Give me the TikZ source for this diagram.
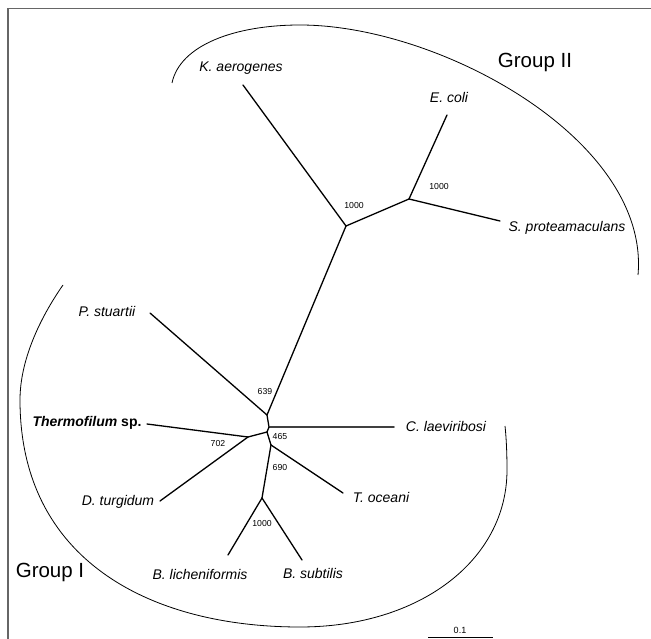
\documentclass[tikz,border=0pt]{standalone}
\usepackage{fontspec}
\setmainfont{Liberation Sans}
\begin{document}
\begin{tikzpicture}[x=1pt,y=-1pt,
  branch/.style={line width=1.3pt,black,line cap=round},
  species/.style={font=\fontsize{14}{16}\selectfont\itshape,inner sep=1pt},
  boot/.style={font=\fontsize{8.7}{10}\selectfont,inner sep=0.5pt},
  grouplbl/.style={font=\fontsize{20.5}{24}\selectfont,inner sep=0pt},
  grouparc/.style={line width=0.8pt,black},
  frameline/.style={line width=1.6pt,black!60}]
\useasboundingbox (0,0) rectangle (651,639);
% frame lines
\coordinate (fTL) at (8,8.5);
\coordinate (fTR) at (651,8.5);
\coordinate (fBL) at (8,639);
\draw[frameline] (fBL) -- (fTL) -- (fTR);
% internal nodes
\coordinate (A) at (346,226);
\coordinate (B) at (409,199);
\coordinate (C) at (267,415);
\coordinate (J) at (269,427);
\coordinate (J2) at (267,432);
\coordinate (N702) at (248,437);
\coordinate (N465) at (271,445);
\coordinate (N1000) at (262,498);
% tips
\coordinate (tK) at (243,85);
\coordinate (tE) at (447,115);
\coordinate (tS) at (500,221);
\coordinate (tP) at (150,313);
\coordinate (tTh) at (147,424);
\coordinate (tD) at (160,501);
\coordinate (tCl) at (394,427);
\coordinate (tTo) at (343,493);
\coordinate (tBl) at (228,555);
\coordinate (tBs) at (302,560);
% branches
\draw[branch] (tK) -- (A);
\draw[branch] (A) -- (B);
\draw[branch] (B) -- (tE);
\draw[branch] (B) -- (tS);
\draw[branch] (A) -- (C);
\draw[branch] (tP) -- (C);
\draw[branch] (C) -- (J);
\draw[branch,black!75,line width=1.6pt] (J) -- (tCl);
\draw[branch] (J) -- (J2);
\draw[branch] (J2) -- (N702);
\draw[branch] (tTh) -- (N702);
\draw[branch] (N702) -- (tD);
\draw[branch] (J2) -- (N465);
\draw[branch] (N465) -- (tTo);
\draw[branch] (N465) -- (N1000);
\draw[branch] (N1000) -- (tBl);
\draw[branch] (N1000) -- (tBs);
% species labels
\node[species] (lK) at (241,68) {K. aerogenes};
\node[species] (lE) at (449,97) {E. coli};
\node[species] (lS) at (567,228) {S. proteamaculans};
\node[species] (lP) at (107,311) {P. stuartii};
\node[species,font=\fontsize{14}{16}\selectfont\bfseries] (lTh) at (87,423) {\textit{Thermofilum} sp.};
\node[species] (lCl) at (446,426) {C. laeviribosi};
\node[species] (lD) at (118,502) {D. turgidum};
\node[species] (lTo) at (381,497) {T. oceani};
\node[species] (lBl) at (200,574) {B. licheniformis};
\node[species] (lBs) at (313,573) {B. subtilis};
% bootstrap values
\node[boot] (bA) at (354,206) {1000};
\node[boot] (bB) at (439,187) {1000};
\node[boot] (b639) at (265,392) {639};
\node[boot] (b702) at (218,444) {702};
\node[boot] (b465) at (280,437) {465};
\node[boot] (b690) at (280,468) {690};
\node[boot] (b1000) at (262,524) {1000};
% group labels
\node[grouplbl] (g2) at (535,62) {Group II};
\node[grouplbl] (g1) at (50,572) {Group I};
% group arcs
\coordinate (g2a) at (172,83);
\coordinate (g2b) at (300,25);
\coordinate (g2c) at (638,275);
\draw[grouparc] (g2a) .. controls (180,45) and (235,25) .. (g2b)
  .. controls (440,25) and (650,140) .. (g2c);
\coordinate (g1a) at (63,285);
\coordinate (g1b) at (20,400);
\coordinate (g1c) at (300,627);
\coordinate (g1d) at (507,470);
\coordinate (g1e) at (505,426);
\draw[grouparc] (g1a) .. controls (40,318) and (20,360) .. (g1b)
  .. controls (20,560) and (150,627) .. (g1c)
  .. controls (420,627) and (507,560) .. (g1d)
  .. controls (507,450) and (506,435) .. (g1e);
% scale bar
\coordinate (sL) at (428,637.5);
\coordinate (sR) at (493,637.5);
\draw[line width=1pt] (sL) -- (sR);
\node[boot,font=\fontsize{9}{10}\selectfont] (sc) at (460,630) {0.1};
\end{tikzpicture}
\end{document}
